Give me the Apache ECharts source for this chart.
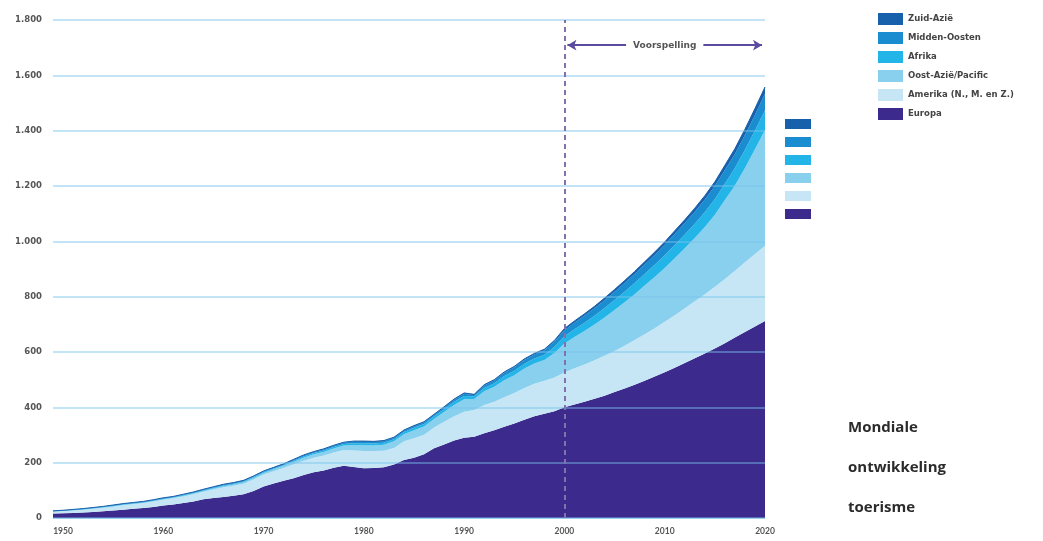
<!DOCTYPE html>
<html>
<head>
<meta charset="utf-8">
<title>Mondiale ontwikkeling toerisme</title>
<script src="https://cdn.jsdelivr.net/npm/echarts@6/dist/echarts.min.js"></script>
<style>
  html, body { margin: 0; padding: 0; background: #ffffff; }
  #chart { width: 1043px; height: 541px; }
</style>
</head>
<body>
<div id="chart"></div>
<script>
// Internationale toeristenaankomsten per regio (miljoenen), 1949-2020
const years = [
  1949,1950,1951,1952,1953,1954,1955,1956,1957,1958,1959,
  1960,1961,1962,1963,1964,1965,1966,1967,1968,1969,
  1970,1971,1972,1973,1974,1975,1976,1977,1978,1979,
  1980,1981,1982,1983,1984,1985,1986,1987,1988,1989,
  1990,1991,1992,1993,1994,1995,1996,1997,1998,1999,
  2000,2001,2002,2003,2004,2005,2006,2007,2008,2009,
  2010,2011,2012,2013,2014,2015,2016,2017,2018,2019,2020
];

const europa = [
  16,17,18,20,22,24,27,30,33,36,40,
  45,49,54,60,68,72,76,80,86,98,
  114,125,135,144,155,165,172,182,189,184,
  180,181,183,193,210,218,230,252,266,280,
  290,294,306,317,330,342,355,368,377,386,
  400,410,420,431,442,455,468,482,496,511,
  527,543,560,577,595,613,632,652,672,692,712
];

const amerika = [
  7,8,9,10,11,13,14,16,17,18,20,
  21,22,24,26,27,31,35,37,38,41,
  43,44,46,50,52,53,54,55,57,60,
  62,61,60,60,67,70,71,75,82,88,
  94,96,102,103,106,110,115,117,119,122,
  126,131,135,139,144,149,155,161,168,175,
  182,190,198,206,214,223,232,242,252,262,272
];

const oostAzie = [
  0.5,0.5,1,1,1.2,1.2,1.5,1.5,1.5,1.5,1.5,
  2,2,2.5,2.5,3,3.5,4,4,5,6,
  6,7,7.5,9,11,12,13,14,16,19,
  21,20.5,22,24,25.5,29,30,31,35,40,
  45,40,50,54,62,64,70,73,75,88,
  105,113,121,129,139,148,157,166,176,185,
  195,206,217,229,243,260,285,308,341,379,418
];

const afrika = [
  1,1,1.2,1.2,1.5,1.5,1.8,1.8,1.8,1.8,1.8,
  2,2,2.2,2.2,2.4,2.6,2.8,2.8,2.9,3,
  3,3.2,3.4,4,4.5,4.6,5,5.5,5.8,6.8,
  7,7,7.3,7.5,8,9,9,9.5,10.5,12,
  12,10,12,13,15,16,17.5,18.5,19.5,23,
  26,28,30,32,34,36,38,40,42,44,
  46,48,50,52,54,57,60,63,66,68,72
];

const middenOosten = [
  1,1,1.2,1.2,1.5,1.5,1.8,1.8,1.8,1.8,1.8,
  2,2,2.2,2.2,2.4,2.6,2.8,2.8,2.8,2.8,
  2.8,2.6,2.8,3.5,4,4,4.5,5,4.7,6.3,
  6,5.5,5.7,5.5,5.5,6,6,5.5,6.3,7.5,
  8,4.5,9,10,12,12.5,14,14.5,15.5,18,
  22,24,25.5,27,28.5,30,31.5,33,34.5,36,
  37.5,39.5,41,43,45,47,49,51,53,56,59
];

const zuidAzie = [
  0.5,0.5,0.6,0.6,0.8,0.8,0.9,0.9,0.9,0.9,0.9,
  1,1,1.1,1.1,1.2,1.3,1.4,1.4,1.3,1.2,
  1.2,1.2,1.3,1.5,1.5,1.4,1.5,1.5,1.5,1.9,
  2,2,2,2,2,2,2,2,2.2,2.5,
  3,2.5,3,3,3,3.5,3.5,4,4,5,
  6,6,6.5,7,7.5,8,8.5,9,9.5,10,
  10.5,11.5,12,13,14,15,17,19,21,23,25
];

const regionNames = [
  'Europa',
  'Amerika (N., M. en Z.)',
  'Oost-Azië/Pacific',
  'Afrika',
  'Midden-Oosten',
  'Zuid-Azië'
];
const regionValues = [europa, amerika, oostAzie, afrika, middenOosten, zuidAzie];
const regionColors = ['#3c2a8c', '#c6e6f6', '#88d0ee', '#24b5e8', '#1a8cd0', '#1660ac'];

const yTicks = [0, 200, 400, 600, 800, 1000, 1200, 1400, 1600, 1800];
const xTicks = [1950, 1960, 1970, 1980, 1990, 2000, 2010, 2020];
const forecastStart = 2000;
const forecastArrow = [2000.3, 2019.7];
const forecastArrowLevel = 1709;
const forecastLabel = 'Voorspelling';
const titleLines = ['Mondiale', 'ontwikkeling', 'toerisme'];

function dutchNumber(v) {
  if (v >= 1000) {
    return Math.floor(v / 1000) + '.' + String(v % 1000).padStart(3, '0');
  }
  return String(v);
}

const legendOrder = regionNames.slice().reverse();
const yearLabels = years.map(String);

const series = regionNames.map((name, i) => {
  const s = {
    name: name,
    type: 'line',
    stack: 'totaal',
    xAxisIndex: 0,
    symbol: 'none',
    smooth: false,
    z: 2,
    lineStyle: { width: 0 },
    itemStyle: { color: regionColors[i] },
    areaStyle: { color: regionColors[i], opacity: 1 },
    data: regionValues[i]
  };
  if (i === regionNames.length - 1) {
    // top edge of the stack
    s.lineStyle = { width: 1, color: '#1660ac' };
  }
  return s;
});

// forecast marker: dashed line at 2000 plus the double arrow above the curve
series.push({
  name: 'voorspelling-grens',
  type: 'line',
  xAxisIndex: 1,
  data: [],
  z: 6,
  markLine: {
    silent: true,
    animation: false,
    symbol: 'none',
    lineStyle: { color: '#8470ac', type: [5, 4], width: 2 },
    label: { show: false },
    data: [
      [{ coord: [forecastStart, 0] }, { coord: [forecastStart, 1800] }]
    ]
  }
});
series.push({
  name: 'voorspelling-pijl',
  type: 'line',
  xAxisIndex: 1,
  data: [],
  z: 6,
  markLine: {
    silent: true,
    animation: false,
    symbol: ['arrow', 'arrow'],
    symbolSize: [8, 9],
    lineStyle: { color: '#5b4a9e', type: 'solid', width: 2 },
    label: {
      show: true,
      position: 'insideMiddle',
      formatter: forecastLabel,
      color: '#555',
      fontSize: 9,
      fontWeight: 'bold',
      fontFamily: '"DejaVu Sans", sans-serif',
      backgroundColor: '#ffffff',
      padding: [2, 7]
    },
    data: [
      [{ coord: [forecastArrow[0], forecastArrowLevel] }, { coord: [forecastArrow[1], forecastArrowLevel] }]
    ]
  }
});

const chart = echarts.init(document.getElementById('chart'), null, { renderer: 'canvas' });

chart.setOption({
  backgroundColor: '#ffffff',
  animation: false,
  title: {
    text: titleLines.join('\n'),
    left: 843,
    top: 403,
    textStyle: {
      fontFamily: '"Open Sans", sans-serif',
      fontWeight: 'bold',
      fontSize: 15,
      color: '#2b2b2b',
      lineHeight: 40
    }
  },
  legend: [
    {
      orient: 'vertical',
      left: 873,
      top: 8,
      itemWidth: 25,
      itemHeight: 12,
      itemGap: 7,
      icon: 'rect',
      selectedMode: false,
      data: legendOrder,
      textStyle: {
        fontFamily: '"DejaVu Sans", sans-serif',
        fontSize: 8.5,
        fontWeight: 'bold',
        color: '#444'
      }
    },
    {
      orient: 'vertical',
      left: 780,
      top: 114,
      itemWidth: 26,
      itemHeight: 10,
      itemGap: 8,
      icon: 'rect',
      selectedMode: false,
      data: legendOrder,
      formatter: () => '',
      textStyle: { fontSize: 1 }
    }
  ],
  grid: { left: 53, right: 278, top: 20, bottom: 23, containLabel: false },
  xAxis: [
    {
      type: 'category',
      data: yearLabels,
      boundaryGap: false,
      axisLine: { show: true, lineStyle: { color: '#b5dcf0', width: 1 } },
      axisTick: { show: false },
      splitLine: { show: false },
      axisLabel: {
        interval: (idx, val) => xTicks.includes(Number(val)),
        margin: 9,
        fontFamily: 'Lato, sans-serif',
        fontSize: 8.5,
        fontWeight: 'bold',
        color: '#555'
      }
    },
    {
      type: 'value',
      min: years[0],
      max: years[years.length - 1],
      show: false
    }
  ],
  yAxis: {
    type: 'value',
    min: 0,
    max: 1800,
    interval: 200,
    z: 5,
    axisLine: { show: false },
    axisTick: { show: false },
    axisLabel: {
      margin: 11,
      fontFamily: '"DejaVu Sans", sans-serif',
      fontSize: 8.5,
      fontWeight: 'bold',
      color: '#555',
      formatter: v => yTicks.includes(v) ? dutchNumber(v) : ''
    },
    splitLine: {
      show: true,
      lineStyle: { color: 'rgba(120,195,235,0.6)', width: 1.5 }
    }
  },
  series: series
});
</script>
</body>
</html>
